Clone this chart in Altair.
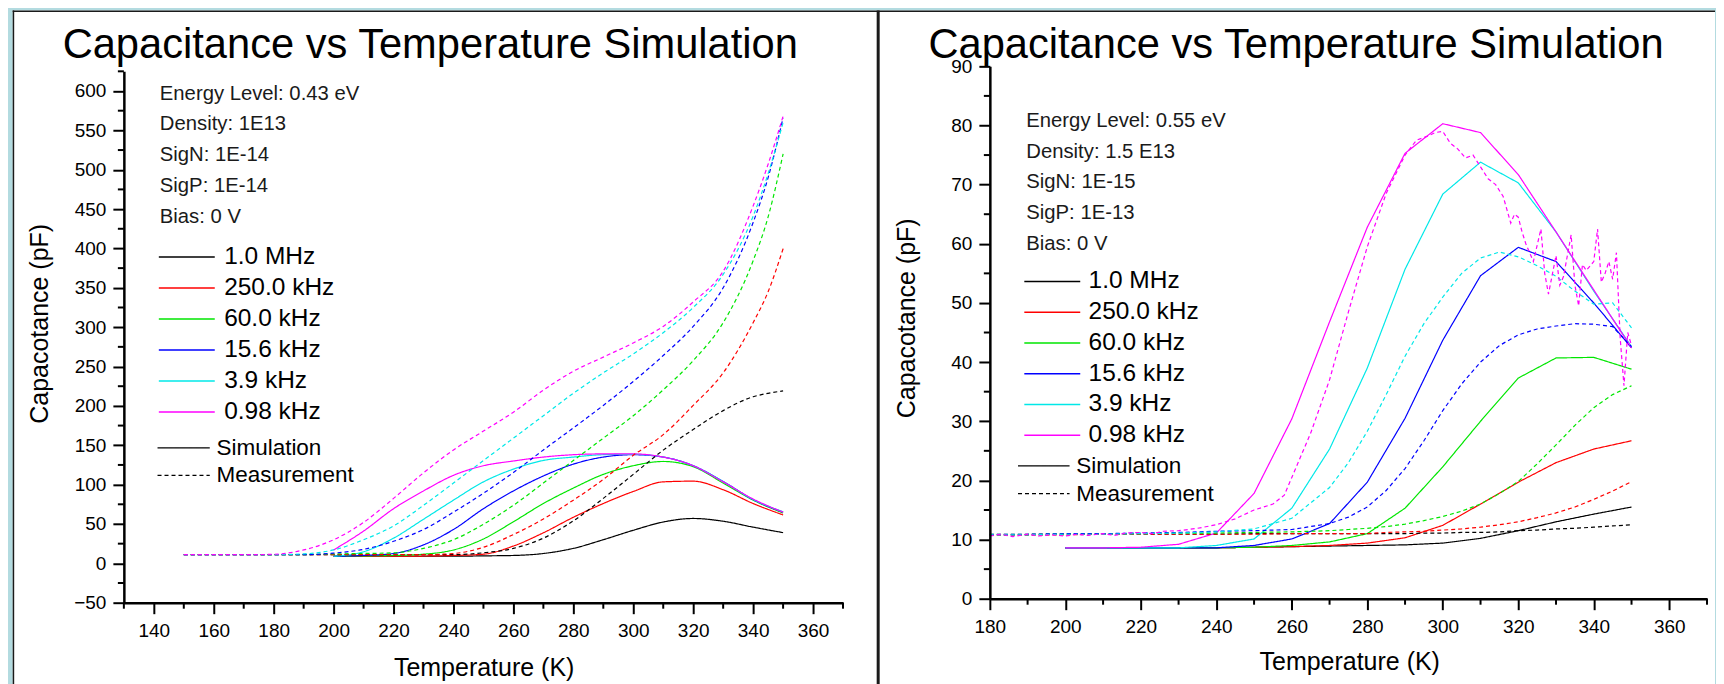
import altair as alt
import pandas as pd

FONT = "Liberation Sans"
BG = "#b3dbe0"
BORDER = "#1a1a1a"

SERIES = ["1.0 MHz", "250.0 kHz", "60.0 kHz", "15.6 kHz", "3.9 kHz", "0.98 kHz"]
COLORS = ["#000000", "#ff0000", "#00e600", "#0000ff", "#00e8e8", "#ff00ff"]
KINDS = ["Simulation", "Measurement"]
TITLE = "Capacitance vs Temperature Simulation"
Y_TITLE = "Capacotance (pF)"
X_TITLE = "Temperature (K)"

# ---------------- left panel (0.43 eV) ----------------
ANN_L = ["Energy Level: 0.43 eV", "Density: 1E13", "SigN: 1E-14", "SigP: 1E-14", "Bias: 0 V"]
T_SIM_L = [200, 210, 220, 230, 240, 250, 260, 270, 280, 290, 300, 310, 320, 330, 340, 350]
SIM_L_1MHZ = [9, 9, 9, 9, 9, 9.5, 10, 12.5, 19, 30, 42, 52.5, 57, 53.5, 46, 39]
SIM_L_250K = [9, 9, 9, 9.3, 10, 11.6, 22, 38.8, 58.5, 76, 91.3, 103.5, 104.4, 93.5, 76, 61.5]
SIM_L_60K = [9, 9.5, 10, 11.6, 17, 31, 52.8, 76, 95.6, 113, 124, 129.4, 122.8, 102, 80.3, 64]
SIM_L_15K = [9, 10, 12.5, 23.5, 43, 69.4, 92, 111, 126, 135, 138, 135, 124, 104, 81, 65]
SIM_L_3K9 = [9, 14.7, 32, 56, 80.3, 103.5, 119.7, 130.7, 135, 138, 138.5, 135, 124, 104, 81, 65.5]
SIM_L_098 = [17, 41, 69.4, 92, 111.8, 124, 130, 135, 138, 139, 139, 135, 124, 103.5, 81.7, 65]

T_MEAS_L = [150, 160, 170, 180, 190, 200, 210, 220, 230, 240, 250, 260, 270, 280, 290, 300, 310, 320, 330, 340, 345, 350]
MEAS_L_1MHZ = [11, 11, 11, 11, 11, 11, 11, 11, 11, 11, 13.4, 19, 32, 54, 82.5, 113, 143.8, 170, 194, 211.6, 216, 219]
MEAS_L_250K = [11, 11, 11, 11, 11, 11, 11, 11, 11, 12.5, 20.4, 36.6, 56.3, 80.3, 106.6, 137.2, 163.5, 200.6, 242, 305.7, 345, 399.7]
MEAS_L_60K = [11, 11, 11, 11, 11, 12, 12.5, 13.4, 19, 30, 49.7, 73.7, 102, 130.6, 159, 187.5, 220.4, 257.5, 305.7, 384.4, 440, 520]
MEAS_L_15K = [11, 11, 11, 11, 11, 13, 17.8, 28, 43, 65, 89, 115.4, 144, 172, 200.6, 231, 264, 301, 350, 433, 490, 566]
MEAS_L_3K9 = [11, 11, 11, 11, 12, 17, 30, 47.5, 73.7, 102, 130.6, 159, 187.5, 216, 242, 266, 293, 325, 367, 441, 495, 560]
MEAS_L_098 = [11, 11, 11, 11.5, 17, 30, 52, 82.5, 115, 144, 168, 192, 220, 244, 262, 280, 301, 332, 371, 454, 507, 568]

# ---------------- right panel (0.55 eV) ----------------
ANN_R = ["Energy Level: 0.55 eV", "Density: 1.5 E13", "SigN: 1E-15", "SigP: 1E-13", "Bias: 0 V"]
T_SIM_R = [200, 210, 220, 230, 240, 250, 260, 270, 280, 290, 300, 310, 320, 330, 340, 350]
SIM_R_1MHZ = [8.6, 8.6, 8.6, 8.6, 8.6, 8.7, 8.8, 8.9, 9.0, 9.1, 9.4, 10.2, 11.5, 13, 14.3, 15.5]
SIM_R_250K = [8.6, 8.6, 8.6, 8.6, 8.6, 8.7, 8.8, 9.0, 9.4, 10.3, 12.4, 16, 19.7, 23, 25.3, 26.7]
SIM_R_60K = [8.6, 8.6, 8.6, 8.6, 8.6, 8.7, 9.0, 9.6, 11, 15.3, 22.3, 30, 37.3, 40.7, 40.8, 38.8]
SIM_R_15K = [8.6, 8.6, 8.6, 8.6, 8.6, 9.0, 10.1, 12.7, 19.7, 30.5, 43.7, 54.6, 59.4, 57, 50, 42.4]
SIM_R_3K9 = [8.6, 8.6, 8.6, 8.6, 9.0, 10.1, 15.3, 25.3, 39, 55.7, 68.4, 73.8, 70.3, 62, 52, 42.6]
SIM_R_098 = [8.6, 8.6, 8.7, 9.2, 11.1, 17.8, 30.4, 46.8, 62.8, 75.3, 80.3, 78.8, 71.7, 62, 52.2, 42.4]

T_MEAS_R = [180, 190, 200, 210, 220, 230, 240, 250, 260, 270, 275, 280, 285, 290, 295, 300,
            305, 310, 315, 320, 325, 330, 335, 340, 345, 350]
MEAS_R_1MHZ = [10.8, 10.8, 10.9, 10.9, 10.9, 10.9, 10.9, 11.0, 11.0, 11.0, 11.0, 11.0, 11.0, 11.0, 11.1, 11.1,
               11.2, 11.2, 11.3, 11.5, 11.6, 11.8, 11.9, 12.1, 12.3, 12.5]
MEAS_R_250K = [10.8, 10.8, 10.8, 10.9, 10.9, 10.9, 10.9, 10.9, 11.0, 11.0, 11.0, 11.0, 11.2, 11.3, 11.4, 11.6,
               11.8, 12.1, 12.5, 13.0, 13.7, 14.5, 15.5, 16.8, 18.2, 19.8]
MEAS_R_60K = [10.9, 10.9, 11.0, 11.0, 11.0, 11.1, 11.1, 11.2, 11.3, 11.5, 11.7, 11.9, 12.2, 12.6, 13.2, 13.9,
              14.8, 16.0, 17.8, 19.8, 22.8, 26.0, 29.3, 32.3, 34.5, 36.0]
MEAS_R_15K = [10.9, 10.9, 11.0, 11.0, 11.1, 11.2, 11.4, 11.5, 11.7, 12.7, 13.8, 15.5, 18.3, 22.0, 26.7, 31.8,
              36.3, 40.0, 42.8, 44.6, 45.6, 46.1, 46.5, 46.4, 46.0, 42.6]
MEAS_R_3K9 = [10.8, 10.8, 10.9, 10.9, 11.0, 11.1, 11.3, 11.8, 13.6, 18.8, 23.0, 28.3, 34.5, 41.0, 46.5, 51.0,
              55.0, 57.6, 58.6, 57.8, 56.3, 54.5, 52.0, 49.8, 50.0, 45.8]
T_MEAS_R_098 = [180, 183, 186, 190, 193, 196, 200, 203, 206, 210, 213, 216, 220, 223, 226, 230, 235, 240,
                245, 250, 255, 258, 260, 265, 270, 275, 280, 285, 290, 293, 296, 298, 300, 302, 304, 306,
                308, 310, 312, 314, 316, 318, 319, 320, 321, 322, 324, 326, 327, 328, 330, 331, 332, 334,
                335, 336, 337, 338, 340, 341, 342, 343, 344, 345, 346, 347, 348, 349, 350]
MEAS_R_098 = [10.6, 10.9, 10.5, 10.9, 10.6, 10.8, 10.6, 10.9, 10.7, 11.0, 10.7, 11.1, 11.2, 11.0, 11.4, 11.5,
              11.9, 12.5, 13.5, 15.0, 16.0, 17.5, 20.5, 28.0, 37.0, 48.5, 59.5, 68.5, 75.0, 77.5, 78.2, 78.8,
              79.0, 77.0, 76.0, 74.5, 75.0, 73.0, 71.0, 70.0, 68.0, 63.5, 65.0, 64.5, 62.0, 60.0, 57.0, 62.5,
              55.0, 51.5, 58.0, 53.0, 54.5, 61.5, 53.0, 49.5, 56.5, 55.5, 57.0, 62.5, 53.5, 55.0, 57.0, 54.0,
              58.5, 44.0, 36.0, 45.0, 42.8]


def long_df(sim_sets, meas_sets):
    rows = []
    for name, (ts, vs) in zip(SERIES, sim_sets):
        for t, v in zip(ts, vs):
            rows.append({"T": t, "C": v, "series": name, "kind": "Simulation"})
    for name, (ts, vs) in zip(SERIES, meas_sets):
        for t, v in zip(ts, vs):
            rows.append({"T": t, "C": v, "series": name, "kind": "Measurement"})
    return pd.DataFrame(rows)


DF_L = long_df(
    [(T_SIM_L, SIM_L_1MHZ), (T_SIM_L, SIM_L_250K), (T_SIM_L, SIM_L_60K),
     (T_SIM_L, SIM_L_15K), (T_SIM_L, SIM_L_3K9), (T_SIM_L, SIM_L_098)],
    [(T_MEAS_L, MEAS_L_1MHZ), (T_MEAS_L, MEAS_L_250K), (T_MEAS_L, MEAS_L_60K),
     (T_MEAS_L, MEAS_L_15K), (T_MEAS_L, MEAS_L_3K9), (T_MEAS_L, MEAS_L_098)])
DF_R = long_df(
    [(T_SIM_R, SIM_R_1MHZ), (T_SIM_R, SIM_R_250K), (T_SIM_R, SIM_R_60K),
     (T_SIM_R, SIM_R_15K), (T_SIM_R, SIM_R_3K9), (T_SIM_R, SIM_R_098)],
    [(T_MEAS_R, MEAS_R_1MHZ), (T_MEAS_R, MEAS_R_250K), (T_MEAS_R, MEAS_R_60K),
     (T_MEAS_R, MEAS_R_15K), (T_MEAS_R, MEAS_R_3K9), (T_MEAS_R_098, MEAS_R_098)])

# axis ticks
X_LABELS_L = list(range(140, 361, 20))
X_MINOR_L = list(range(130, 371, 20))
Y_LABELS_L = list(range(-50, 601, 50))
Y_MINOR_L = list(range(-25, 626, 50))
X_LABELS_R = list(range(180, 361, 20))
X_MINOR_R = list(range(190, 371, 20))
Y_LABELS_R = list(range(0, 91, 10))
Y_MINOR_R = list(range(5, 86, 10))

ONE = pd.DataFrame({"k": [0]})
COLOR = alt.Color("series:N", scale=alt.Scale(domain=SERIES, range=COLORS), legend=None)
DASH = alt.StrokeDash("kind:N", scale=alt.Scale(domain=KINDS, range=[[1, 0], [4, 3]]), legend=None)


def axis(values, pad, offset=0):
    return alt.Axis(values=values, title=None, grid=False, tickSize=11, tickWidth=2,
                    tickColor="black", domainColor="black", domainWidth=2.5,
                    labelFont=FONT, labelFontSize=19, labelColor="black",
                    labelPadding=pad, labelFlush=False, labelOverlap=False,
                    format="d", zindex=1, offset=offset)


def rule(x1, x2, y1, y2, w):
    return alt.Chart(ONE).mark_rule(color=BORDER, strokeWidth=w).encode(
        x=alt.value(x1), x2=alt.value(x2), y=alt.value(y1), y2=alt.value(y2))


def panel(df, W, H, xdom, ydom, yrange, xbase, xl, xm, yl, ym, interp, rect, borders, pos):
    XE = alt.X("T:Q", scale=alt.Scale(domain=xdom, nice=False, zero=False),
               axis=axis(xl, 8, xbase - H))
    YE = alt.Y("C:Q", scale=alt.Scale(domain=ydom, range=yrange, nice=False, zero=False),
               axis=axis(yl, 7))

    layers = [alt.Chart(ONE).mark_rect(fill="white", strokeWidth=0).encode(
        x=alt.value(rect[0]), x2=alt.value(rect[1]), y=alt.value(rect[2]), y2=alt.value(rect[3]))]
    layers += [rule(*b) for b in borders]

    layers.append(alt.Chart(df).mark_line(strokeWidth=1.2, interpolate=interp).encode(
        x=XE, y=YE, color=COLOR, strokeDash=DASH))

    layers.append(alt.Chart(pd.DataFrame({"T": xm})).mark_rule(color="black", strokeWidth=2).encode(
        x=XE, y=alt.value(xbase), y2=alt.value(xbase + 6)))
    layers.append(alt.Chart(pd.DataFrame({"C": ym})).mark_rule(color="black", strokeWidth=2).encode(
        y=YE, x=alt.value(-6), x2=alt.value(0)))

    layers.append(alt.Chart(ONE).mark_text(text=TITLE, font=FONT, fontSize=41.7, align="left",
                                           baseline="alphabetic", color="black").encode(
        x=alt.value(pos["title"][0]), y=alt.value(pos["title"][1])))

    layers.append(alt.Chart(ONE).mark_text(text=pos["ann"], font=FONT, fontSize=20.3, align="left",
                                           baseline="alphabetic", color="#1a1a1a",
                                           lineHeight=pos["ann_lh"]).encode(
        x=alt.value(pos["ann_xy"][0]), y=alt.value(pos["ann_xy"][1])))

    leg_df = pd.DataFrame({"series": SERIES, "i": list(range(len(SERIES)))})
    lx1, lx2, ltx, ly0, ldy = pos["leg"]
    leg_base = alt.Chart(leg_df).transform_calculate(ly=f"{ly0} + datum.i * {ldy}")
    layers.append(leg_base.mark_rule(strokeWidth=1.5).encode(
        x=alt.value(lx1), x2=alt.value(lx2), y=alt.Y("ly:Q", scale=None), color=COLOR))
    layers.append(leg_base.mark_text(font=FONT, fontSize=24.5, align="left", baseline="middle",
                                     color="black").encode(
        x=alt.value(ltx), y=alt.Y("ly:Q", scale=None), text="series:N"))

    kind_df = pd.DataFrame({"kind": KINDS, "i": [0, 1]})
    kx1, kx2, ktx, ky0, kdy = pos["kind"]
    kind_base = alt.Chart(kind_df).transform_calculate(ky=f"{ky0} + datum.i * {kdy}")
    layers.append(kind_base.mark_rule(strokeWidth=1.3, color="black").encode(
        x=alt.value(kx1), x2=alt.value(kx2), y=alt.Y("ky:Q", scale=None), strokeDash=DASH))
    layers.append(kind_base.mark_text(font=FONT, fontSize=22.5, align="left", baseline="middle",
                                      color="black").encode(
        x=alt.value(ktx), y=alt.Y("ky:Q", scale=None), text="kind:N"))

    layers.append(alt.Chart(ONE).mark_text(text=Y_TITLE, font=FONT, fontSize=25, angle=270,
                                           align="center", baseline="middle", color="black").encode(
        x=alt.value(pos["ytitle"][0]), y=alt.value(pos["ytitle"][1])))
    layers.append(alt.Chart(ONE).mark_text(text=X_TITLE, font=FONT, fontSize=25, align="center",
                                           baseline="alphabetic", color="black").encode(
        x=alt.value(pos["xtitle"][0]), y=alt.value(pos["xtitle"][1])))

    return alt.layer(*layers).properties(width=W, height=H)


# both panels share the same origin (top of right plot); local pixel offsets below
POS_L = {
    "title": (-61.3, -8), "ann": ANN_L, "ann_lh": 30.8, "ann_xy": (36, 33.3),
    "leg": (35, 91, 100.4, 191, 31), "kind": (33.7, 86, 92.7, 382, 27.6),
    "ytitle": (-84.1, 257.8), "xtitle": (360.7, 610),
}
POS_R = {
    "title": (-61.5, -8), "ann": ANN_R, "ann_lh": 30.6, "ann_xy": (36.5, 61),
    "leg": (34.5, 90.5, 98.8, 215.3, 30.8), "kind": (28.2, 79.8, 86.5, 400, 27.7),
    "ytitle": (-82.8, 252.3), "xtitle": (360.3, 604),
}

H = 537
left = panel(DF_L, 720, H, [130, 370], [-50, 625], [537, 5], 537,
             X_LABELS_L, X_MINOR_L, Y_LABELS_L, Y_MINOR_L, "monotone",
             (-111.3, 755.7, -56, 620),
             [(-111.3, 755.7, -55.25, -55.25, 1.5),      # top border
              (-110.55, -110.55, -56, 620, 1.5)],        # left border
             POS_L)
right = panel(DF_R, 718, H, [180, 370], [0, 90], [533, 0], 533,
              X_LABELS_R, X_MINOR_R, Y_LABELS_R, Y_MINOR_R, "linear",
              (-112, 726, -56, 620),
              [(-112, 726, -55.25, -55.25, 1.5),         # top border
               (-111.8, -111.8, -56, 620, 3)],           # divider between the two panels
              POS_R)

chart = alt.hconcat(left, right, spacing=147, bounds="flush").properties(
    padding={"left": 3, "top": 0, "right": 0, "bottom": 0},
    background=BG,
).configure_view(strokeOpacity=0)

chart.save("out.html", embed_options={"renderer": "svg", "actions": False})
